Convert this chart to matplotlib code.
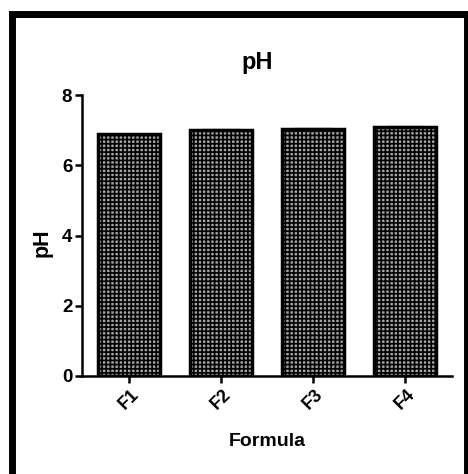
import matplotlib
matplotlib.use('Agg')
import matplotlib.pyplot as plt
from matplotlib.patches import Rectangle

formulas = ['F1', 'F2', 'F3', 'F4']
ph_values = [6.88, 7.0, 7.04, 7.1]
ph_err = [0.02, 0.02, 0.02, 0.02]

plt.rcParams['font.family'] = ['Liberation Sans', 'DejaVu Sans']
plt.rcParams['hatch.linewidth'] = 1.2
plt.rcParams['hatch.color'] = '#6a6a6a'

W, H = 468, 474
fig = plt.figure(figsize=(W / 100, H / 100), dpi=100)
ax = fig.add_axes([82 / W, 1 - 376 / H, 370 / W, 281 / H])

x = range(len(formulas))
ax.bar(x, ph_values, width=0.67, color='#a4a4a4', edgecolor='black',
       linewidth=2.5, hatch='++++', zorder=2)
ax.errorbar(x, ph_values, yerr=ph_err, fmt='none', ecolor='#777777',
            elinewidth=1, capsize=14, capthick=1, zorder=1)

ax.set_xlim(-0.51, 3.51)
ax.set_ylim(0, 8)
ax.set_yticks([0, 2, 4, 6, 8])
ax.set_xticks(list(x))
ax.set_xticklabels(formulas, rotation=45, ha='center', fontsize=13,
                   fontweight='bold')
for lbl in ax.get_yticklabels():
    lbl.set_fontsize(13.5)
    lbl.set_fontweight('bold')

for s in ['top', 'right']:
    ax.spines[s].set_visible(False)
for s in ['left', 'bottom']:
    ax.spines[s].set_linewidth(1.8)
ax.tick_params(axis='both', direction='out', width=1.8, length=5, pad=2)

fig.text(257 / W, 1 - 62 / H, 'pH', ha='center', va='center',
         fontsize=17, fontweight='bold')
fig.text(42 / W, 1 - 243 / H, 'pH', ha='center', va='center',
         rotation=90, fontsize=15.5, fontweight='bold')
fig.text(267 / W, 1 - 442 / H, 'Formula', ha='center', va='center',
         fontsize=14, fontweight='bold')

# thick black frame around the whole figure
fig.patches.append(Rectangle((11.5 / W, -10 / H), (466.5 - 11.5) / W,
                             (H - 13.5 + 10) / H, transform=fig.transFigure,
                             fill=False, edgecolor='black', linewidth=5.0))

fig.savefig('out.png', dpi=100)
